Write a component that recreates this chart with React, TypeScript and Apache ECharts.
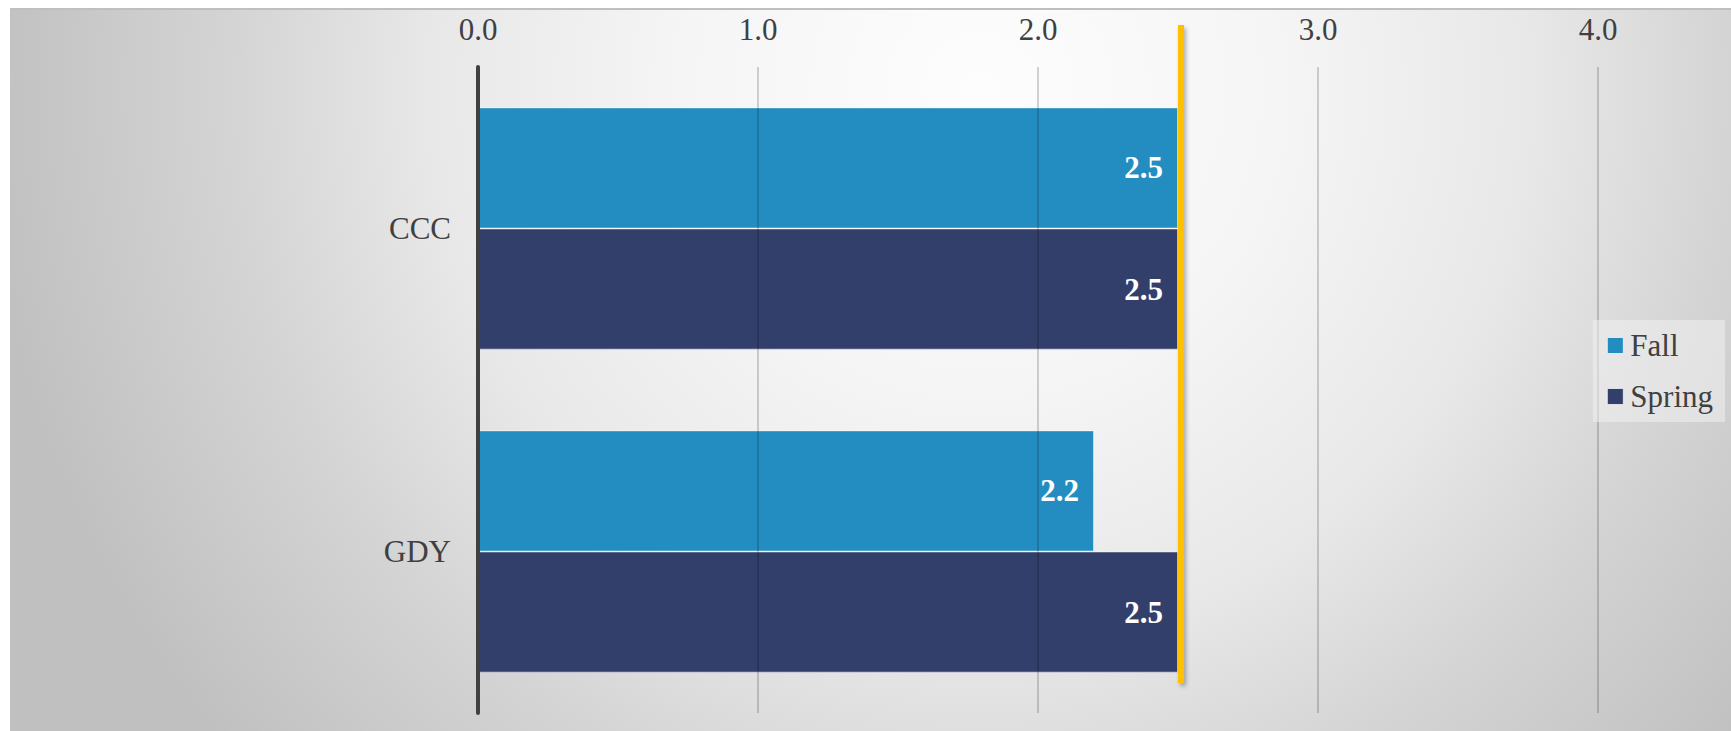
import React, { useEffect, useRef } from 'react';
import * as echarts from 'echarts';

const categories = ['CCC', 'GDY'];
const seriesNames = ['Fall', 'Spring'];
const fallValues = [2.5, 2.2];
const springValues = [2.5, 2.5];
const targetValues = [2.5];
const xTicks = [0, 1, 2, 3, 4];

export default function App() {
  const ref = useRef<HTMLDivElement>(null);
  useEffect(() => {
    const chart = echarts.init(ref.current!, null, { renderer: 'svg' });
    const font = '"Liberation Serif", "Times New Roman", serif';
    const barLabel = {
      show: true,
      position: 'insideRight',
      distance: 15,
      color: '#ffffff',
      fontFamily: font,
      fontSize: 31,
      fontWeight: 'bold',
      formatter: (p: any) => Number(p.value).toFixed(1),
    };
    const background = [
      {
        type: 'rect',
        z: -10,
        silent: true,
        shape: { x: 10, y: 8, width: 1721, height: 723 },
        style: {
          fill: new echarts.graphic.RadialGradient(
            980,
            90,
            1000,
            [
              { offset: 0, color: '#fdfdfd' },
              { offset: 0.3, color: '#f5f5f5' },
              { offset: 0.55, color: '#e8e8e8' },
              { offset: 0.75, color: '#d4d4d4' },
              { offset: 1, color: '#c0c0c0' },
            ],
            true
          ),
        },
      },
      {
        type: 'line',
        z: -9,
        silent: true,
        shape: { x1: 10, y1: 9, x2: 1731, y2: 9 },
        style: { stroke: '#bfbfbf', lineWidth: 2 },
      },
    ];
    chart.setOption({
      animation: false,
      graphic: background,
      grid: { left: 478, top: 67, width: 1120, bottom: 18, containLabel: false },
      legend: {
        data: seriesNames,
        orient: 'vertical',
        right: 6,
        top: 320,
        itemWidth: 16,
        itemHeight: 16,
        itemGap: 20,
        icon: 'rect',
        backgroundColor: 'rgba(240,240,240,0.55)',
        padding: [10, 12, 10, 14],
        textStyle: { fontFamily: font, fontSize: 31, color: '#404040', lineHeight: 31, padding: [0, 0, 0, 2] },
        itemStyle: { borderColor: 'rgba(255,255,255,0.7)', borderWidth: 1 },
      },
      xAxis: {
        type: 'value',
        position: 'top',
        min: xTicks[0],
        max: xTicks[xTicks.length - 1],
        interval: 1,
        z: 3,
        axisLine: { show: false },
        axisTick: { show: false },
        splitLine: { show: true, lineStyle: { color: 'rgba(0,0,0,0.17)', width: 2 } },
        axisLabel: {
          margin: 22,
          fontFamily: font,
          fontSize: 31,
          color: '#404040',
          formatter: (v: number) => v.toFixed(1),
        },
      },
      yAxis: {
        type: 'category',
        data: categories,
        inverse: true,
        z: 4,
        axisLine: { show: true, lineStyle: { color: '#404040', width: 4 } },
        axisTick: { show: false },
        splitLine: { show: false },
        axisLabel: { margin: 27, fontFamily: font, fontSize: 31, color: '#404040' },
      },
      series: [
        {
          name: seriesNames[0],
          type: 'bar',
          data: fallValues,
          barGap: '0%',
          barCategoryGap: '25%',
          itemStyle: { color: '#238DC1', borderColor: 'rgba(255,255,255,0.45)', borderWidth: 1 },
          label: barLabel,
        },
        {
          name: seriesNames[1],
          type: 'bar',
          data: springValues,
          barGap: '0%',
          barCategoryGap: '25%',
          itemStyle: { color: '#333F6B', borderColor: 'rgba(255,255,255,0.45)', borderWidth: 1 },
          label: barLabel,
        },
      ],
    });
    const gridTop = 67;
    const gridBottom = 731 - 18;
    const targetLines = targetValues.map((v) => {
      const x = chart.convertToPixel({ xAxisIndex: 0 }, v) as number;
      return {
        type: 'rect',
        z: 50,
        silent: true,
        shape: { x: x, y: gridTop - 42, width: 6, height: gridBottom - 30 - (gridTop - 42) },
        style: {
          fill: '#FFC000',
          shadowColor: 'rgba(0,0,0,0.3)',
          shadowBlur: 4,
          shadowOffsetX: 2,
          shadowOffsetY: 3,
        },
      };
    });
    chart.setOption({ graphic: [...background, ...targetLines] });
    return () => chart.dispose();
  }, []);
  return (
    <div
      ref={ref}
      style={{ position: 'absolute', left: 0, top: 0, width: 1731, height: 731 }}
    />
  );
}
